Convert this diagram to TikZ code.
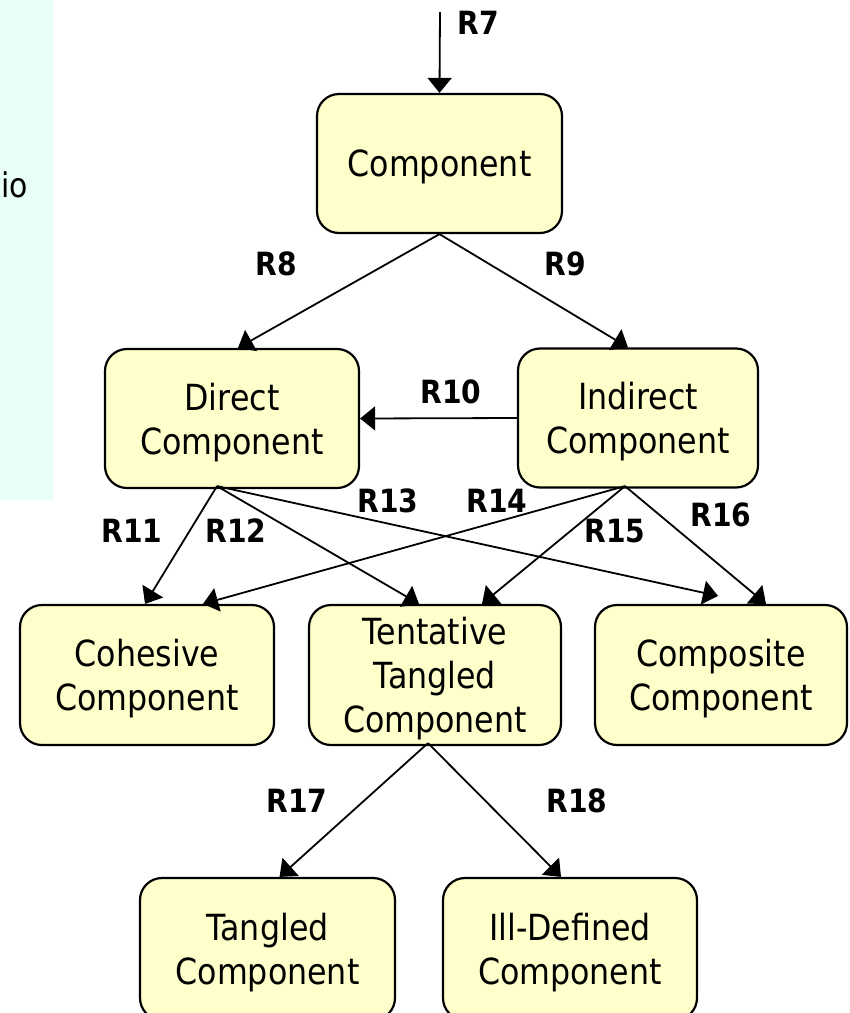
\documentclass[tikz,border=0pt]{standalone}
\usepackage{fontspec}
\setmainfont{DejaVu Sans}[FakeStretch=0.88]
\usetikzlibrary{arrows.meta}
\definecolor{boxfill}{RGB}{255,255,204}
\definecolor{panelfill}{RGB}{232,255,249}
\begin{document}
\begin{tikzpicture}[x=1pt,y=-1pt,
  box/.style={draw=black, line width=2.2pt, fill=boxfill, rounded corners=22pt,
    align=center, inner sep=0pt, text depth=0pt, font=\fontsize{36}{44}\selectfont},
  rel/.style={inner sep=0pt, font=\fontsize{32}{36}\selectfont\bfseries},
  link/.style={line width=1.8pt, -{Triangle[length=15pt,width=24pt]}}]
\useasboundingbox (0,0) rectangle (850,1013);
\clip (0,0) rectangle (850,1013);

% side panel
\fill[panelfill] (0,0) rectangle (53,500);
\node[anchor=west, inner sep=0pt, font=\fontsize{34}{40}\selectfont] (sidetext) at (1,185) {io};

% component nodes
\node[box, minimum width=245pt, minimum height=139pt] (comp) at (439.5,163.5) {Component};
\node[box, minimum width=254pt, minimum height=139pt] (direct) at (232,418.5) {Direct\\Component};
\node[box, minimum width=240pt, minimum height=139pt] (indirect) at (638,418) {Indirect\\Component};
\node[box, minimum width=254pt, minimum height=140pt] (cohesive) at (147,675) {Cohesive\\Component};
\node[box, minimum width=252pt, minimum height=140pt] (tentative) at (435,675) {Tentative\\Tangled\\Component};
\node[box, minimum width=252pt, minimum height=140pt] (composite) at (721,675) {Composite\\Component};
\node[box, minimum width=255pt, minimum height=142pt] (tangled) at (267.5,949) {Tangled\\Component};
\node[box, minimum width=254pt, minimum height=142pt] (illdef) at (570,949) {Ill-Defined\\Component};

% relation arrows
\coordinate (r7start) at (440,12);
\draw[link] (r7start) -- (comp.north);
\draw[link] (comp.south) -- ([xshift=6pt]direct.north);
\draw[link] (comp.south) -- ([xshift=-10pt]indirect.north);
\draw[link] (indirect.west) -- (direct.east);

\draw[link] ([xshift=-15pt,yshift=3pt]direct.south) -- ([xshift=-2pt]cohesive.north);
\draw[link] ([xshift=-15pt,yshift=3pt]direct.south) -- ([xshift=-16pt]tentative.north);
\draw[link] ([xshift=-15pt,yshift=3pt]direct.south) -- ([xshift=-3pt,yshift=8pt]composite.north);

\draw[link] ([xshift=-13pt,yshift=2.5pt]indirect.south) -- ([xshift=56pt]cohesive.north);
\draw[link] ([xshift=-13pt,yshift=2.5pt]indirect.south) -- ([xshift=47pt]tentative.north);
\draw[link] ([xshift=-13pt,yshift=2.5pt]indirect.south) -- ([xshift=45pt]composite.north);

\draw[link] ([xshift=-7pt,yshift=3pt]tentative.south) -- ([xshift=12pt]tangled.north);
\draw[link] ([xshift=-7pt,yshift=3pt]tentative.south) -- ([xshift=-9pt]illdef.north);

% relation labels
\node[rel] (l7) at (478,23) {R7};
\node[rel] (l8) at (276,264) {R8};
\node[rel] (l9) at (565,264) {R9};
\node[rel] (l10) at (451,392) {R10};
\node[rel] (l11) at (132,531) {R11};
\node[rel] (l12) at (236,531) {R12};
\node[rel] (l13) at (388,501) {R13};
\node[rel] (l14) at (497,501) {R14};
\node[rel] (l15) at (615,531) {R15};
\node[rel] (l16) at (721,515) {R16};
\node[rel] (l17) at (297,801) {R17};
\node[rel] (l18) at (577,801) {R18};
\end{tikzpicture}
\end{document}
